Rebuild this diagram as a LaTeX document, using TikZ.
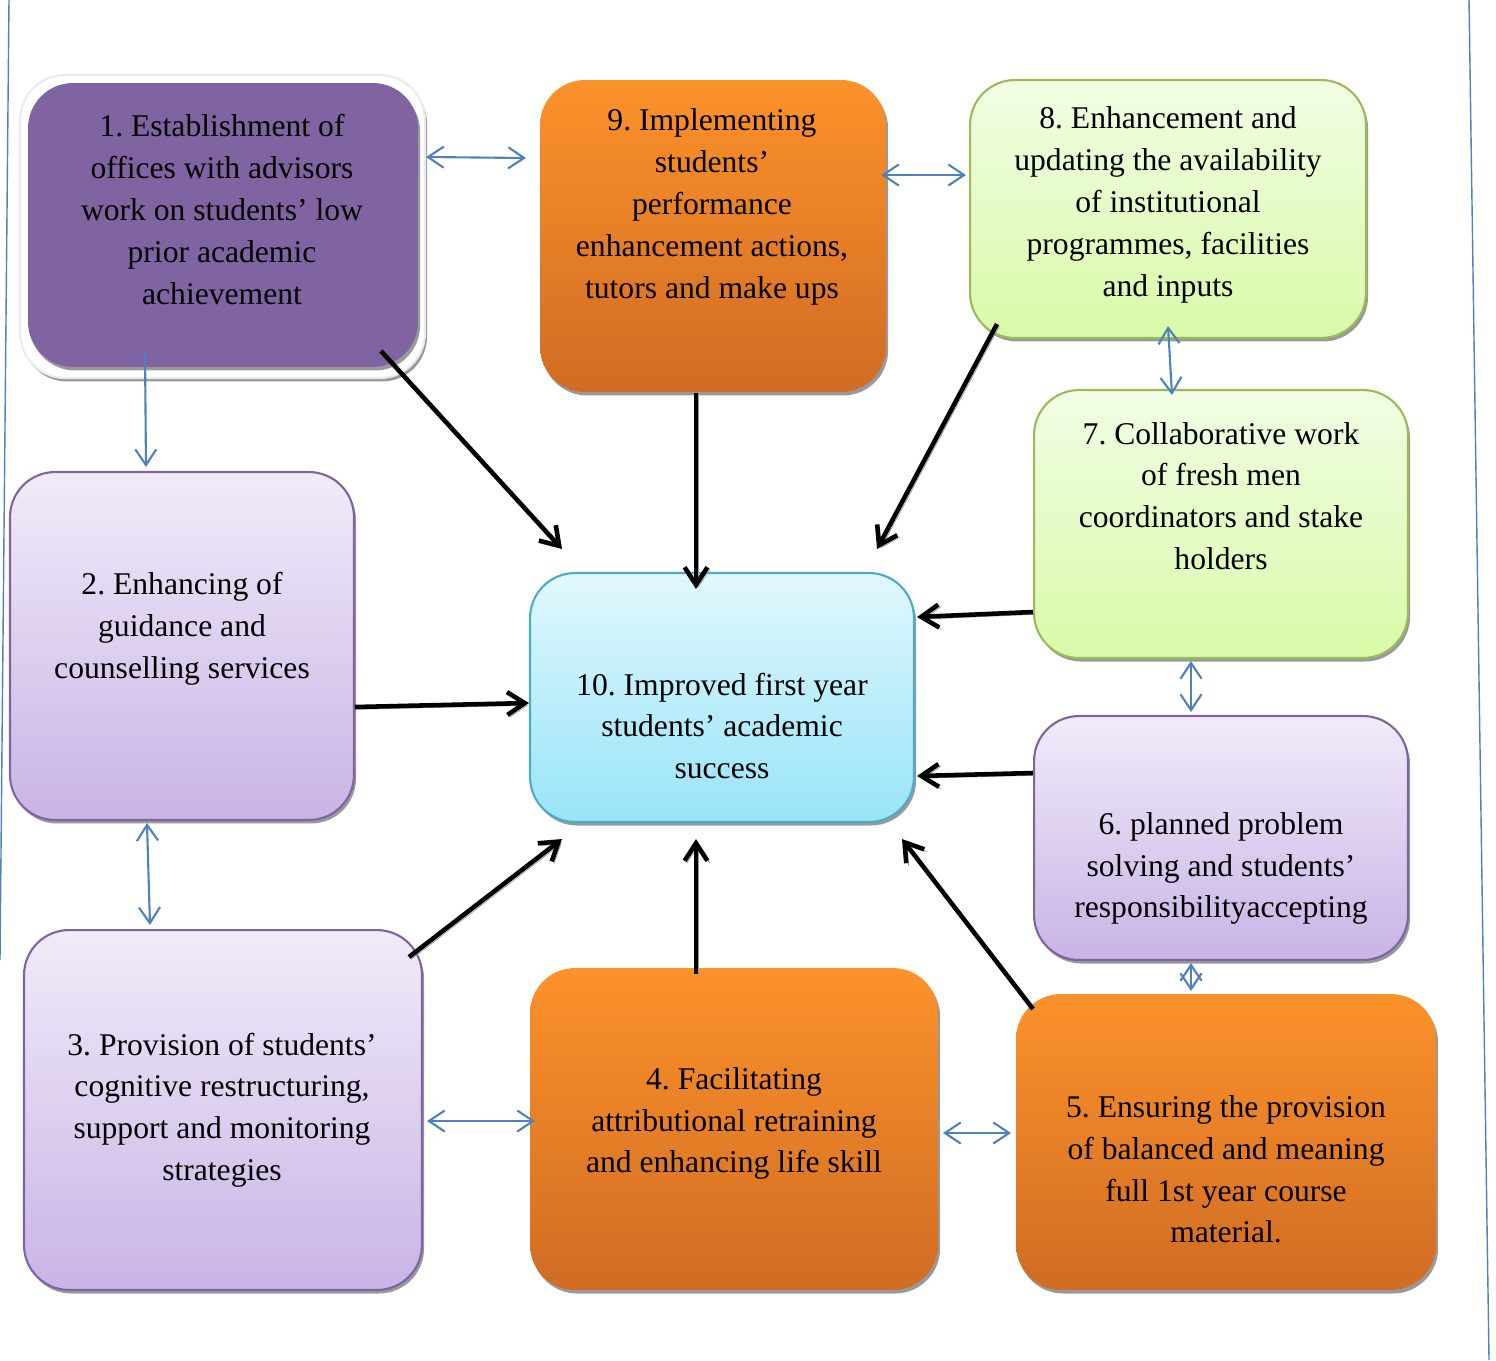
\documentclass[tikz,border=0pt]{standalone}
\usepackage{fontspec}
\setmainfont{Liberation Serif}
\usetikzlibrary{arrows.meta,shadows,calc}
\definecolor{purp}{RGB}{128,100,162}
\definecolor{orT}{RGB}{252,146,42}
\definecolor{orM}{RGB}{242,138,40}
\definecolor{orB}{RGB}{208,108,36}
\definecolor{grT}{RGB}{242,253,228}
\definecolor{grB}{RGB}{216,250,168}
\definecolor{grD}{RGB}{155,187,89}
\definecolor{lvT}{RGB}{241,235,249}
\definecolor{lvB}{RGB}{200,180,230}
\definecolor{blT}{RGB}{226,248,254}
\definecolor{blB}{RGB}{152,228,248}
\definecolor{blD}{RGB}{75,172,198}
\definecolor{conn}{RGB}{79,129,189}
\frenchspacing
\begin{document}
\begin{tikzpicture}[x=0.02cm,y=-0.02cm,
  boxbase/.style={rounded corners=0.9cm, inner sep=0pt, line width=1.2pt,
    drop shadow={shadow xshift=1.2pt, shadow yshift=-2pt, fill=black!40, opacity=1}},
  purplebox/.style={boxbase, fill=purp, draw=none},
  orangebox/.style={boxbase, draw=none, top color=orT, middle color=orM, bottom color=orB},
  greenbox/.style={boxbase, draw=grD, top color=grT, bottom color=grB},
  lavbox/.style={boxbase, draw=purp, top color=lvT, bottom color=lvB},
  bluebox/.style={boxbase, draw=blD, top color=blT, bottom color=blB},
  txt/.style={align=center, inner sep=0pt, font=\fontsize{18pt}{23.8pt}\selectfont},
  blk/.style={draw=black, line width=2.6pt, -{Straight Barb[length=10pt,width=13pt]},
    preaction={draw=black!40, transform canvas={shift={(1.3pt,-1.3pt)}}}},
  blu/.style={draw=conn, line width=1.2pt, {Straight Barb[length=9pt,width=12pt]}-{Straight Barb[length=9pt,width=12pt]}},
  bluone/.style={draw=conn, line width=1.2pt, -{Straight Barb[length=9pt,width=12pt]}},
  edge/.style={draw=conn, line width=0.8pt}
]
\useasboundingbox (0,0) rectangle (1496,1360);
% page border lines
\draw[edge] (9,0) -- (0,960);
\draw[edge] (1469,0) -- (1489,1360);

% boxes
\node[boxbase, fill=white, draw=black!8, minimum width=8.1cm, minimum height=6.06cm] (b1f) at (222.5,226.5) {};
\node[purplebox, minimum width=7.8cm, minimum height=5.68cm] (b1) at (223,225) {};
\node[orangebox, minimum width=6.92cm, minimum height=6.24cm] (b9) at (713,236) {};
\node[greenbox, minimum width=7.92cm, minimum height=5.16cm] (b8) at (1168,209) {};
\node[greenbox, minimum width=7.48cm, minimum height=5.36cm] (b7) at (1221,524) {};
\node[lavbox, minimum width=6.88cm, minimum height=6.96cm] (b2) at (182,646) {};
\node[bluebox, minimum width=7.68cm, minimum height=4.98cm] (b10) at (722,697.5) {};
\node[lavbox, minimum width=7.48cm, minimum height=4.88cm] (b6) at (1221,838) {};
\node[lavbox, minimum width=7.96cm, minimum height=7.2cm] (b3) at (223,1110) {};
\node[orangebox, minimum width=8.16cm, minimum height=6.44cm] (b4) at (734,1129) {};
\node[orangebox, minimum width=8.4cm, minimum height=5.92cm] (b5) at (1226,1142) {};

% texts
\node[txt] (t1) at (222,209.5) {1. Establishment of\\offices with advisors\\work on students’ low\\prior academic\\achievement};
\node[txt] (t9) at (712,207) {9. Implementing\\students’\\performance\\enhancement actions,\\tutors and make ups};
\node[txt] (t8) at (1168,205) {8. Enhancement and\\updating the availability\\of institutional\\programmes, facilities\\and inputs};
\node[txt] (t7) at (1221,496) {7. Collaborative work\\of fresh men\\coordinators and stake\\holders};
\node[txt] (t2) at (182,629) {2. Enhancing of\\guidance and\\counselling services};
\node[txt] (t10) at (722,726) {10. Improved first year\\students’ academic\\success};
\node[txt] (t6) at (1221,868.5) {6. planned problem\\solving and students’\\responsibilityaccepting};
\node[txt] (t3) at (222,1110) {3. Provision of students’\\cognitive restructuring,\\support and monitoring\\strategies};
\node[txt] (t4) at (734,1123.5) {4. Facilitating\\attributional retraining\\and enhancing life skill};
\node[txt] (t5) at (1226,1169.5) {5. Ensuring the provision\\of balanced and meaning\\full 1st year course\\material.};

% black arrows to 10
\draw[blk] ([shift={(-38,-17)}]b1.south east) -- ([shift={(33,-23)}]b10.north west);
\draw[blk] ([shift={(-17,0)}]b9.south) -- ([shift={(-26,17)}]b10.north);
\draw[blk] ([shift={(28,-15)}]b8.south west) -- ([shift={(-38,-23)}]b10.north east);
\draw[blk] ([shift={(0,88)}]b7.west) -- ([shift={(2,-80.5)}]b10.east);
\draw[blk] ([shift={(0,-65)}]b6.west) -- ([shift={(2,78.5)}]b10.east);
\draw[blk] ([shift={(0,61)}]b2.east) -- ([shift={(0,5.5)}]b10.west);
\draw[blk] ([shift={(-14,28)}]b3.north east) -- ([shift={(33,16)}]b10.south west);
\draw[blk] ([shift={(-38,7)}]b4.north) -- ([shift={(-26,16)}]b10.south);
\draw[blk] ([shift={(18,16)}]b5.north west) -- ([shift={(-13,16)}]b10.south east);

% blue connectors
\draw[blu] ([shift={(7,-68)}]b1.east) -- ([shift={(-13,-78)}]b9.west);
\draw[blu] ([shift={(-6,-61)}]b9.east) -- ([shift={(-3,-34)}]b8.west);
\draw[bluone] ([shift={(-78,-17)}]b1.south) -- ([shift={(-36,-4)}]b2.north);
\draw[blu] ([shift={(0,-13)}]b8.south) -- ([shift={(-49,6)}]b7.north);
\draw[blu] ([shift={(-35,2)}]b2.south) -- ([shift={(-73,-4)}]b3.north);
\draw[blu] ([shift={(-30,2)}]b7.south) -- ([shift={(-30,-3)}]b6.north);
\draw[blu] ([shift={(-30,2)}]b6.south) -- ([shift={(-35,-2)}]b5.north);
\draw[blu] ([shift={(4,11)}]b3.east) -- ([shift={(6,-8)}]b4.west);
\draw[blu] ([shift={(4,4)}]b4.east) -- ([shift={(-4,-9)}]b5.west);
\end{tikzpicture}
\end{document}
